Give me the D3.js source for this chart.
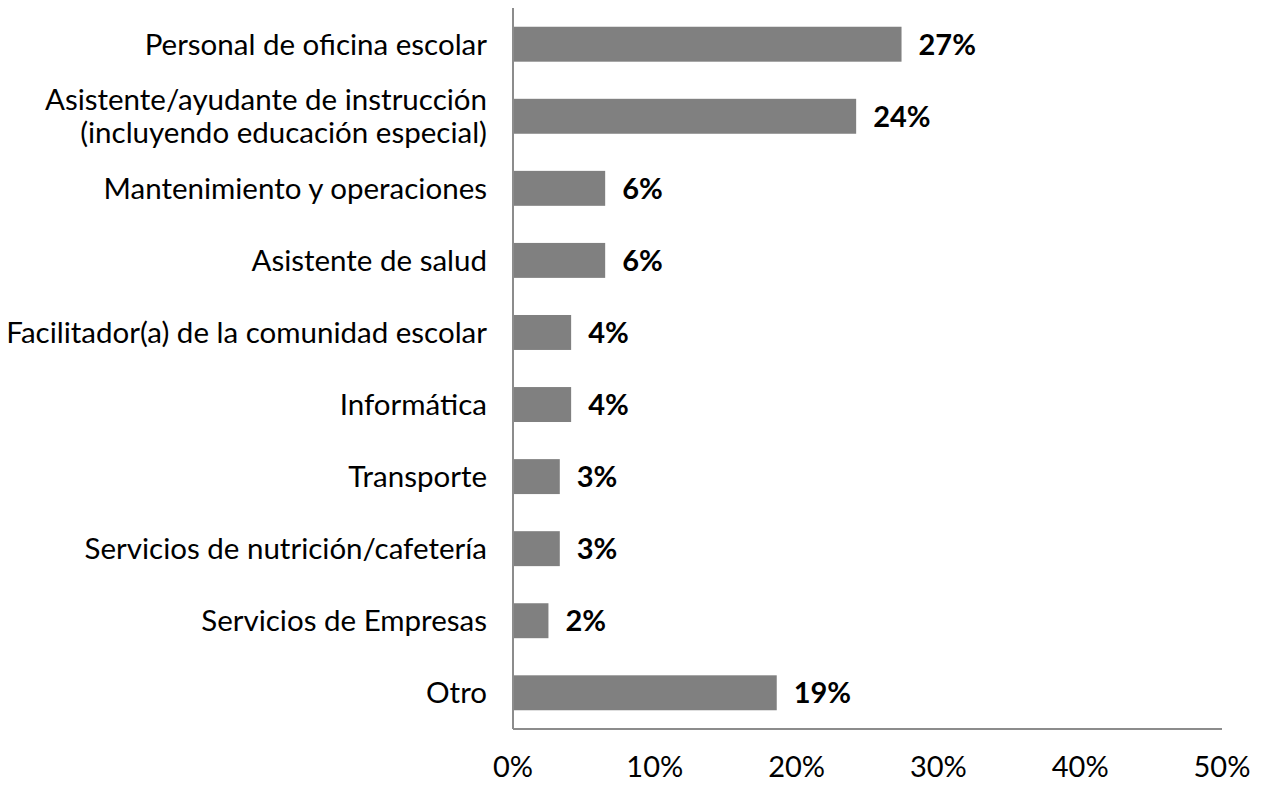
<!DOCTYPE html>
<html>
<head>
<meta charset="utf-8">
<script src="https://cdn.jsdelivr.net/npm/d3@7"></script>
<style>
  body { margin: 0; background: #fff; }
  text { font-family: Lato, "Open Sans", sans-serif; fill: #000; }
</style>
</head>
<body>
<svg id="chart"></svg>
<script>
var categories = [
    ["Personal de oficina escolar"],
    ["Asistente/ayudante de instrucción", "(incluyendo educación especial)"],
    ["Mantenimiento y operaciones"],
    ["Asistente de salud"],
    ["Facilitador(a) de la comunidad escolar"],
    ["Informática"],
    ["Transporte"],
    ["Servicios de nutrición/cafetería"],
    ["Servicios de Empresas"],
    ["Otro"]
];
var values = [27.4, 24.2, 6.5, 6.5, 4.1, 4.1, 3.3, 3.3, 2.5, 18.6];
var valueLabels = ["27%", "24%", "6%", "6%", "4%", "4%", "3%", "3%", "2%", "19%"];
var ticks = [0, 10, 20, 30, 40, 50];

var width = 1263, height = 785;
var margin = {top: 8, right: 41, bottom: 56, left: 513};
var innerW = width - margin.left - margin.right;
var innerH = height - margin.top - margin.bottom;

var svg = d3.select('#chart')
    .attr('width', width)
    .attr('height', height);

var g = svg.append('g')
    .attr('transform', 'translate(' + margin.left + ',' + margin.top + ')');

var x = d3.scaleLinear().domain([0, 50]).range([0, innerW]);
var y = d3.scaleBand()
    .domain(d3.range(categories.length))
    .range([0, innerH])
    .paddingInner(0.515)
    .paddingOuter(0.26);

// bars
g.selectAll('rect.bar')
    .data(values)
    .enter().append('rect')
    .attr('class', 'bar')
    .attr('x', 0)
    .attr('y', function(d, i) { return y(i); })
    .attr('width', function(d) { return x(d); })
    .attr('height', y.bandwidth())
    .attr('fill', '#808080');

// value labels
g.selectAll('text.val')
    .data(values)
    .enter().append('text')
    .attr('class', 'val')
    .attr('x', function(d) { return x(d) + 17; })
    .attr('y', function(d, i) { return y(i) + y.bandwidth() / 2; })
    .attr('dy', '0.36em')
    .style('font-size', '29px')
    .style('font-weight', 'bold')
    .text(function(d, i) { return valueLabels[i]; });

// category labels
g.selectAll('text.cat')
    .data(categories)
    .enter().append('text')
    .attr('class', 'cat')
    .attr('text-anchor', 'end')
    .style('font-size', '29.5px')
    .each(function(lines, i) {
        var t = d3.select(this);
        var cy = y(i) + y.bandwidth() / 2;
        var lh = 33;
        lines.forEach(function(line, k) {
            t.append('tspan')
                .attr('x', -26)
                .attr('y', cy + (k - (lines.length - 1) / 2) * lh)
                .attr('dy', '0.36em')
                .text(line);
        });
    });

// axes lines
g.append('line')
    .attr('x1', 0).attr('x2', 0)
    .attr('y1', 0).attr('y2', innerH)
    .attr('stroke', '#8c8c8c')
    .attr('stroke-width', 2);

g.append('line')
    .attr('x1', 0).attr('x2', innerW)
    .attr('y1', innerH).attr('y2', innerH)
    .attr('stroke', '#8c8c8c')
    .attr('stroke-width', 2);

// tick labels
g.selectAll('text.tick')
    .data(ticks)
    .enter().append('text')
    .attr('class', 'tick')
    .attr('x', function(d) { return x(d); })
    .attr('y', innerH + 48)
    .attr('text-anchor', 'middle')
    .style('font-size', '29px')
    .text(function(d) { return d + '%'; });
</script>
</body>
</html>
